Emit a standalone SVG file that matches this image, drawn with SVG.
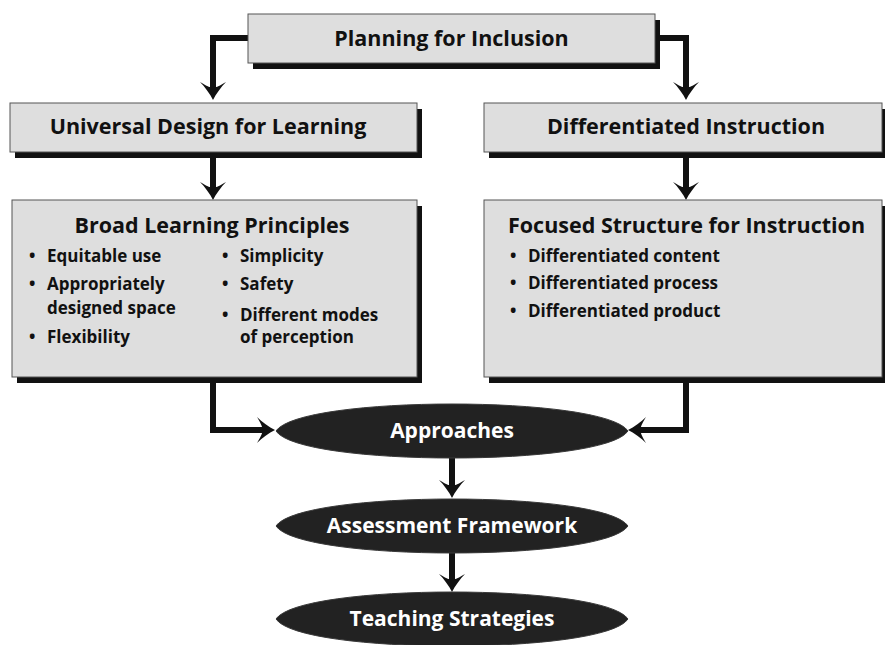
<svg xmlns="http://www.w3.org/2000/svg" width="885" height="645" viewBox="0 0 885 645">
<style>
  .box { fill: #dedede; stroke: #555; stroke-width: 1; }
  .shadow { fill: #111; }
  .title { font-family: "Open Sans", Lato, "Liberation Sans", sans-serif; font-weight: bold; font-size: 21.5px; fill: #111; }
  .item { font-family: "Open Sans", Lato, "Liberation Sans", sans-serif; font-weight: bold; font-size: 17px; fill: #111; }
  .oval { fill: #222; stroke: #3a3a3a; stroke-width: 1; }
  .otext { font-family: "Open Sans", Lato, "Liberation Sans", sans-serif; font-weight: bold; font-size: 21px; fill: #fff; text-anchor: middle; }
  .conn { fill: none; stroke: #111; stroke-width: 6; stroke-linejoin: miter; }
</style>
<defs>
  <marker id="arr" markerUnits="userSpaceOnUse" viewBox="0 0 20 28" markerWidth="20" markerHeight="28" refX="6" refY="14" orient="auto">
    <path d="M19,14 C13,11 6,6 1,1 C4,6 6,10 6,11 L6,17 C6,18 4,22 1,27 C6,22 13,17 19,14 Z" fill="#111"/>
  </marker>
</defs>

<g id="connectors">
  <path class="conn" d="M250,38 H213 V87" marker-end="url(#arr)"/>
  <path class="conn" d="M658,38 H686 V87" marker-end="url(#arr)"/>
  <path class="conn" d="M213,156 V187" marker-end="url(#arr)"/>
  <path class="conn" d="M686,156 V187" marker-end="url(#arr)"/>
  <path class="conn" d="M213,380 V430 H262" marker-end="url(#arr)"/>
  <path class="conn" d="M686,380 V430 H641" marker-end="url(#arr)"/>
  <path class="conn" d="M452,456 V485" marker-end="url(#arr)"/>
  <path class="conn" d="M452,551 V579" marker-end="url(#arr)"/>
</g>

<g id="planning">
  <rect class="shadow" x="253" y="20" width="407" height="49"/>
  <rect class="box" x="248" y="14" width="407" height="49"/>
  <text class="title" x="451.5" y="46" text-anchor="middle">Planning for Inclusion</text>
</g>

<g id="udl">
  <rect class="shadow" x="15" y="109" width="407" height="49"/>
  <rect class="box" x="10" y="103" width="407" height="49"/>
  <text class="title" x="208" y="134" text-anchor="middle">Universal Design for Learning</text>
</g>

<g id="di">
  <rect class="shadow" x="489" y="109" width="398" height="49"/>
  <rect class="box" x="484" y="103" width="398" height="49"/>
  <text class="title" x="686" y="134" text-anchor="middle">Differentiated Instruction</text>
</g>

<g id="broad">
  <rect class="shadow" x="17" y="206" width="405" height="177"/>
  <rect class="box" x="12" y="200" width="405" height="177"/>
  <text class="title" x="212" y="233" text-anchor="middle">Broad Learning Principles</text>
  <text class="item" x="29" y="262">•</text>
  <text class="item" x="47" y="262">Equitable use</text>
  <text class="item" x="29" y="290">•</text>
  <text class="item" x="47" y="290">Appropriately</text>
  <text class="item" x="47" y="314">designed space</text>
  <text class="item" x="29" y="343">•</text>
  <text class="item" x="47" y="343">Flexibility</text>
  <text class="item" x="222" y="262">•</text>
  <text class="item" x="240" y="262">Simplicity</text>
  <text class="item" x="222" y="290">•</text>
  <text class="item" x="240" y="290">Safety</text>
  <text class="item" x="222" y="321">•</text>
  <text class="item" x="240" y="321">Different modes</text>
  <text class="item" x="240" y="343">of perception</text>
</g>

<g id="focused">
  <rect class="shadow" x="489" y="206" width="398" height="177"/>
  <rect class="box" x="484" y="200" width="398" height="177"/>
  <text class="title" x="508" y="233">Focused Structure for Instruction</text>
  <text class="item" x="510" y="262">•</text>
  <text class="item" x="528" y="262">Differentiated content</text>
  <text class="item" x="510" y="289">•</text>
  <text class="item" x="528" y="289">Differentiated process</text>
  <text class="item" x="510" y="317">•</text>
  <text class="item" x="528" y="317">Differentiated product</text>
</g>

<g id="approaches">
  <path class="oval" d="M276,431 C300,395 604,395 628,431 C604,467 300,467 276,431 Z"/>
  <text class="otext" x="452" y="438">Approaches</text>
</g>

<g id="assessment">
  <path class="oval" d="M276,526 C300,490 604,490 628,526 C604,562 300,562 276,526 Z"/>
  <text class="otext" x="452" y="533">Assessment Framework</text>
</g>

<g id="teaching">
  <path class="oval" d="M276,619 C300,583 604,583 628,619 C604,655 300,655 276,619 Z"/>
  <text class="otext" x="452" y="626">Teaching Strategies</text>
</g>
</svg>
